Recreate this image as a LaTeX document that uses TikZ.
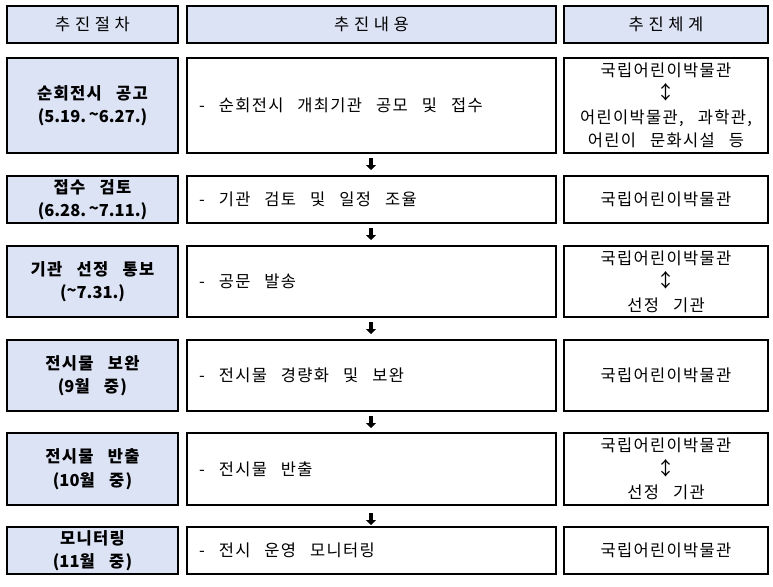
\documentclass[tikz,border=0pt]{standalone}
\usepackage{fontspec}
\setmainfont{Noto Sans CJK KR}[LetterSpace=8, WordSpace=2.8]
\usetikzlibrary{arrows.meta}
\definecolor{stepblue}{RGB}{220,227,245}
\tikzset{
    cell/.style={draw=black, line width=1.2pt, inner sep=0pt, align=center,
        font=\fontsize{16.5}{23.5}\selectfont},
    headcell/.style={cell, fill=stepblue, font=\fontsize{16.5}{23.5}\selectfont\addfontfeature{LetterSpace=28}},
    stagecell/.style={cell, fill=stepblue, font=\fontsize{16.5}{23.5}\selectfont\bfseries},
    taskcell/.style={cell, align=flush left, inner xsep=12pt, text width=345pt, minimum width=369pt},
    orgcell/.style={cell, minimum width=204pt},
    down/.style={line width=3.5pt, -{Triangle[width=10pt,length=5pt]}}
}
\newcommand{\updown}{{\fontsize{19}{23.5}\selectfont ↕}}
\newcommand{\period}[1]{{\addfontfeature{LetterSpace=0}#1}}
\newcommand{\tl}{\raisebox{0.2ex}{\textasciitilde}}
\begin{document}
\begin{tikzpicture}[x=1pt, y=-1pt]
            \useasboundingbox (0, 0) rectangle (773, 586);
            % header
            \node[headcell, minimum width=171, minimum height=37] (hstage) at (92.5, 24.5) {추진절차};
            \node[headcell, minimum width=369, minimum height=37] (htask) at (371.5, 24.5) {추진내용};
            \node[headcell, minimum width=204, minimum height=37] (horg) at (666, 24.5) {추진체계};
            % row 1
            \node[stagecell, minimum width=171, minimum height=95] (s1) at (92.5, 105.5) {순회전시 공고\\\period{(5.19.\,\tl6.27.)}};
            \node[taskcell, minimum height=95] (t1) at (371.5, 105.5) {- 순회전시 개최기관 공모 및 접수};
            \node[orgcell, minimum height=95] (o1) at (666, 105.5) {국립어린이박물관\\\updown\\어린이박물관, 과학관,\\어린이 문화시설 등};
            % row 2
            \node[stagecell, minimum width=171, minimum height=47] (s2) at (92.5, 199.5) {접수 검토\\\period{(6.28.\,\tl7.11.)}};
            \node[taskcell, minimum height=47] (t2) at (371.5, 199.5) {- 기관 검토 및 일정 조율};
            \node[orgcell, minimum height=47] (o2) at (666, 199.5) {국립어린이박물관};
            % row 3
            \node[stagecell, minimum width=171, minimum height=71] (s3) at (92.5, 281.5) {기관 선정 통보\\\period{(\tl7.31.)}};
            \node[taskcell, minimum height=71] (t3) at (371.5, 281.5) {- 공문 발송};
            \node[orgcell, minimum height=71] (o3) at (666, 281.5) {국립어린이박물관\\\updown\\선정 기관};
            % row 4
            \node[stagecell, minimum width=171, minimum height=71] (s4) at (92.5, 375.5) {전시물 보완\\(\period{9}월 중)};
            \node[taskcell, minimum height=71] (t4) at (371.5, 375.5) {- 전시물 경량화 및 보완};
            \node[orgcell, minimum height=71] (o4) at (666, 375.5) {국립어린이박물관};
            % row 5
            \node[stagecell, minimum width=171, minimum height=72] (s5) at (92.5, 469) {전시물 반출\\(\period{10}월 중)};
            \node[taskcell, minimum height=72] (t5) at (371.5, 469) {- 전시물 반출};
            \node[orgcell, minimum height=72] (o5) at (666, 469) {국립어린이박물관\\\updown\\선정 기관};
            % row 6
            \node[stagecell, minimum width=171, minimum height=47] (s6) at (92.5, 550.5) {모니터링\\(\period{11}월 중)};
            \node[taskcell, minimum height=47] (t6) at (371.5, 550.5) {- 전시 운영 모니터링};
            \node[orgcell, minimum height=47] (o6) at (666, 550.5) {국립어린이박물관};
            % arrows between the rows
            \coordinate (d1a) at (371, 158);
            \coordinate (d1b) at (371, 170);
            \coordinate (d2a) at (371, 228);
            \coordinate (d2b) at (371, 240);
            \coordinate (d3a) at (371, 322);
            \coordinate (d3b) at (371, 334);
            \coordinate (d4a) at (371, 416);
            \coordinate (d4b) at (371, 428);
            \coordinate (d5a) at (371, 513);
            \coordinate (d5b) at (371, 525);
            \foreach \i in {1,...,5}
                \draw[down] (d\i a) -- (d\i b);
        \end{tikzpicture}
\end{document}
